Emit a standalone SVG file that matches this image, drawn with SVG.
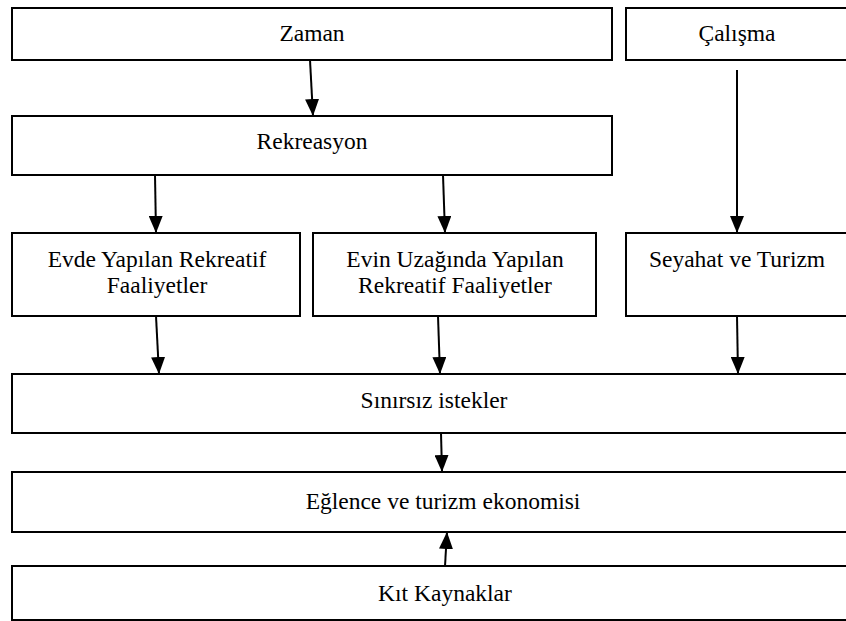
<svg xmlns="http://www.w3.org/2000/svg" width="846" height="621" viewBox="0 0 846 621">
<style>
.box{fill:#fff;stroke:#000;stroke-width:2}
.t{font-family:'Liberation Serif',Tinos,'Times New Roman',Times,'DejaVu Serif','Noto Serif',serif;font-size:23.5px;fill:#000;text-anchor:middle}
.c{stroke:#000;stroke-width:2;fill:none;marker-end:url(#ah)}
</style>
<defs>
<marker id="ah" viewBox="0 0 17 14" refX="17" refY="7" markerWidth="17" markerHeight="14" markerUnits="userSpaceOnUse" orient="auto">
<path d="M0,0 L17,7 L0,14 z" fill="#000"/>
</marker>
</defs>
<rect width="846" height="621" fill="#fff"/>
<g id="zaman"><rect class="box" x="12" y="8" width="600" height="52"/><text class="t" x="312" y="41">Zaman</text></g>
<g id="calisma"><rect class="box" x="626" y="8" width="224" height="52"/><text class="t" x="737" y="41">Çalışma</text></g>
<g id="rekreasyon"><rect class="box" x="12" y="116" width="600" height="59"/><text class="t" x="312" y="149">Rekreasyon</text></g>
<g id="evde"><rect class="box" x="12" y="233" width="288" height="83"/><text class="t" x="157" y="267">Evde Yapılan Rekreatif</text><text class="t" x="157" y="293">Faaliyetler</text></g>
<g id="evin"><rect class="box" x="313" y="233" width="283" height="83"/><text class="t" x="455" y="267">Evin Uzağında Yapılan</text><text class="t" x="455" y="293">Rekreatif Faaliyetler</text></g>
<g id="seyahat"><rect class="box" x="626" y="233" width="224" height="83"/><text class="t" x="737" y="267">Seyahat ve Turizm</text></g>
<g id="sinirsiz"><rect class="box" x="12" y="374" width="838" height="59"/><text class="t" x="434" y="408">Sınırsız istekler</text></g>
<g id="eglence"><rect class="box" x="12" y="472" width="838" height="60"/><text class="t" x="443" y="509">Eğlence ve turizm ekonomisi</text></g>
<g id="kit"><rect class="box" x="12" y="566" width="838" height="54"/><text class="t" x="445" y="601">Kıt Kaynaklar</text></g>
<g id="connectors">
<line class="c" x1="310" y1="60" x2="313" y2="116"/>
<line class="c" x1="155" y1="175" x2="156" y2="233"/>
<line class="c" x1="443" y1="175" x2="445" y2="233"/>
<line class="c" x1="737" y1="70" x2="737" y2="233"/>
<line class="c" x1="156" y1="316" x2="159" y2="374"/>
<line class="c" x1="438" y1="316" x2="440" y2="374"/>
<line class="c" x1="737" y1="316" x2="738" y2="374"/>
<line class="c" x1="441" y1="433" x2="442" y2="472"/>
<line class="c" x1="445" y1="566" x2="447" y2="532"/>
</g>
</svg>
